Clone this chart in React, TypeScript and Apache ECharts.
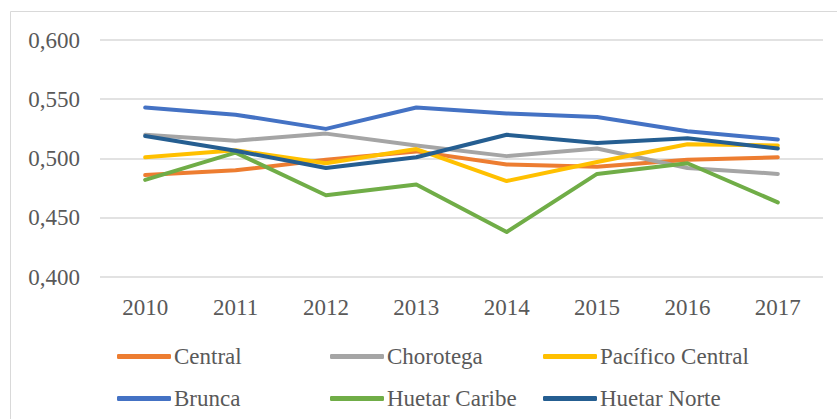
import React, { useEffect, useRef } from "react";
import * as echarts from "echarts";

const years = ["2010", "2011", "2012", "2013", "2014", "2015", "2016", "2017"];
const central = [0.486, 0.49, 0.499, 0.506, 0.495, 0.493, 0.499, 0.501];
const chorotega = [0.52, 0.515, 0.521, 0.511, 0.502, 0.5085, 0.492, 0.487];
const pacificoCentral = [0.501, 0.507, 0.496, 0.508, 0.481, 0.497, 0.512, 0.511];
const brunca = [0.543, 0.537, 0.525, 0.543, 0.538, 0.535, 0.523, 0.516];
const huetarCaribe = [0.482, 0.505, 0.469, 0.478, 0.438, 0.487, 0.496, 0.463];
const huetarNorte = [0.519, 0.5065, 0.492, 0.501, 0.52, 0.513, 0.517, 0.5085];

const seriesNames = ["Central", "Chorotega", "Pacífico Central", "Brunca", "Huetar Caribe", "Huetar Norte"];
const seriesData = [central, chorotega, pacificoCentral, brunca, huetarCaribe, huetarNorte];
const colors = ["#ED7D31", "#A5A5A5", "#FFC000", "#4472C4", "#70AD47", "#255E91"];

const FONT = "Liberation Serif";

export default function App() {
  const ref = useRef<HTMLDivElement>(null);
  useEffect(() => {
    document.body.style.margin = "0";
    const chart = echarts.init(ref.current!, null, { renderer: "svg" });
    const legendPos = [
      [112, 340], [325, 340], [538, 340],
      [112, 382], [325, 382], [538, 382],
    ];
    chart.setOption({
      animation: false,
      backgroundColor: "#fff",
      textStyle: { fontFamily: FONT },
      graphic: [
        {
          type: "rect",
          shape: { x: 10.5, y: 11.5, width: 840, height: 420 },
          style: { fill: "none", stroke: "#D9D9D9", lineWidth: 1 },
          silent: true,
        },
      ],
      grid: { left: 100, right: 14, top: 40, bottom: 142 },
      xAxis: {
        type: "category",
        data: years,
        boundaryGap: true,
        axisLine: { show: false },
        axisTick: { show: false },
        axisLabel: { color: "#595959", fontSize: 23, fontFamily: FONT, margin: 19 },
      },
      yAxis: {
        type: "value",
        min: 0.4,
        max: 0.6,
        interval: 0.05,
        axisLine: { show: false },
        axisTick: { show: false },
        splitLine: { lineStyle: { color: "#D9D9D9", width: 1.5 } },
        axisLabel: {
          color: "#595959",
          fontSize: 23,
          fontFamily: FONT,
          margin: 20,
          formatter: (v: number) => v.toFixed(3).replace(".", ","),
        },
      },
      legend: seriesNames.map((n, i) => ({
        data: [n],
        left: legendPos[i][0],
        top: legendPos[i][1],
        icon: "roundRect",
        itemWidth: 54,
        itemHeight: 5,
        selectedMode: false,
        textStyle: { color: "#595959", fontSize: 23, fontFamily: FONT, padding: [0, 0, 0, -2] },
      })),
      series: seriesNames.map((n, i) => ({
        name: n,
        type: "line",
        data: seriesData[i],
        symbol: "none",
        showSymbol: false,
        color: colors[i],
        lineStyle: { width: 4, color: colors[i], cap: "round", join: "round" },
      })),
    });
    return () => chart.dispose();
  }, []);
  return <div ref={ref} style={{ width: 837, height: 419 }} />;
}
